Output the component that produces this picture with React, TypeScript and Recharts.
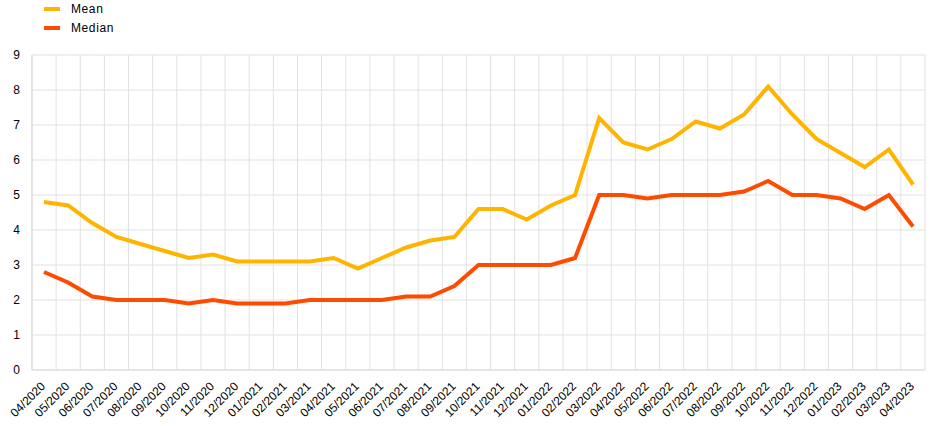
import {CartesianGrid, Line, LineChart, XAxis, YAxis} from "recharts";

// months shown on the category axis
const months = [
  "04/2020", "05/2020", "06/2020", "07/2020", "08/2020", "09/2020", "10/2020", "11/2020", "12/2020",
  "01/2021", "02/2021", "03/2021", "04/2021", "05/2021", "06/2021", "07/2021", "08/2021", "09/2021",
  "10/2021", "11/2021", "12/2021", "01/2022", "02/2022", "03/2022", "04/2022", "05/2022", "06/2022",
  "07/2022", "08/2022", "09/2022", "10/2022", "11/2022", "12/2022", "01/2023", "02/2023", "03/2023",
  "04/2023",
];

const meanValues = [
  4.8, 4.7, 4.2, 3.8, 3.6, 3.4, 3.2, 3.3, 3.1,
  3.1, 3.1, 3.1, 3.2, 2.9, 3.2, 3.5, 3.7, 3.8,
  4.6, 4.6, 4.3, 4.7, 5.0, 7.2, 6.5, 6.3, 6.6,
  7.1, 6.9, 7.3, 8.1, 7.3, 6.6, 6.2, 5.8, 6.3,
  5.3,
];

const medianValues = [
  2.8, 2.5, 2.1, 2.0, 2.0, 2.0, 1.9, 2.0, 1.9,
  1.9, 1.9, 2.0, 2.0, 2.0, 2.0, 2.1, 2.1, 2.4,
  3.0, 3.0, 3.0, 3.0, 3.2, 5.0, 5.0, 4.9, 5.0,
  5.0, 5.0, 5.1, 5.4, 5.0, 5.0, 4.9, 4.6, 5.0,
  4.1,
];

const yTicks = [0, 1, 2, 3, 4, 5, 6, 7, 8, 9];

const series = [
  {key: "mean", name: "Mean", color: "#ffb400"},
  {key: "median", name: "Median", color: "#ff4b00"},
];

const FONT = "'Liberation Sans', Arial, sans-serif";

const data = months.map((month, i) => ({
  month,
  mean: meanValues[i],
  median: medianValues[i],
}));

// legend: short thick swatch + label, stacked (kept outside the chart so it takes no plot space)
function ChartLegend() {
  return (
    <div style={{position: "absolute", left: 44, top: -1, fontFamily: FONT, fontSize: 12, color: "#000", zIndex: 1}}>
      {series.map((s) => (
        <div key={s.key} style={{display: "flex", alignItems: "center", height: 19}}>
          <span style={{display: "inline-block", width: 16, height: 4, background: s.color, marginRight: 11}}/>
          <span style={{letterSpacing: 0.6}}>{s.name}</span>
        </div>
      ))}
    </div>
  );
}

export default function App() {
  // grid lines sit on category boundaries, not on the points
  const boundaries = ({offset}: any) => {
    const step = offset.width / months.length;
    return months.map((_, i) => offset.left + i * step).concat(offset.left + offset.width);
  };

  return (
    <div style={{position: "absolute", left: 0, top: 0, width: 948, height: 426, background: "#fff"}}>
      <ChartLegend/>
      <LineChart width={948} height={426} data={data} margin={{top: 55, right: 23, bottom: 0, left: 0}}>
        <CartesianGrid stroke="#e1e1e1" verticalCoordinatesGenerator={boundaries} strokeWidth={1}/>
        <XAxis
          dataKey="month"
          interval={0}
          height={56}
          padding={{left: 12, right: 12}}
          tickLine={false}
          tickSize={0}
          tickMargin={11}
          axisLine={{stroke: "#d9d9d9"}}
          angle={-45}
          textAnchor="end"
          tick={{fill: "#000", fontSize: 12, fontFamily: FONT, dx: -4}}
        />
        <YAxis
          width={32}
          domain={[0, 9]}
          ticks={yTicks}
          interval={0}
          tickLine={false}
          tickSize={0}
          tickMargin={12}
          axisLine={{stroke: "#d9d9d9"}}
          tick={{fill: "#000", fontSize: 12, fontFamily: FONT}}
        />
        {series.map((s) => (
          <Line
            key={s.key}
            type="linear"
            dataKey={s.key}
            name={s.name}
            stroke={s.color}
            strokeWidth={4}
            dot={false}
            activeDot={false}
            isAnimationActive={false}
          />
        ))}
      </LineChart>
    </div>
  );
}
